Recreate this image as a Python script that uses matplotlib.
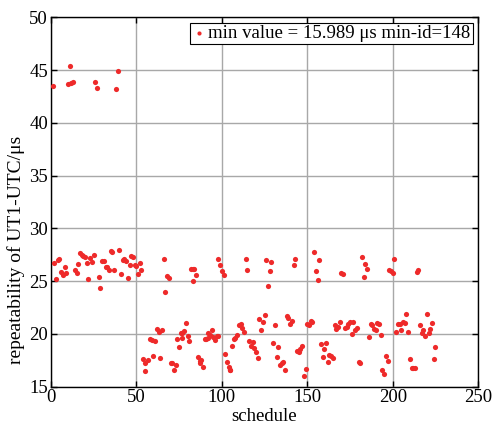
import matplotlib
matplotlib.use('Agg')
import matplotlib.pyplot as plt

plt.rcParams['font.family'] = ['Liberation Serif', 'DejaVu Serif']

# schedule ids and repeatability values
schedule = [
    1, 11, 10, 12, 13, 26, 27, 38, 39,
    2, 3, 4, 5, 6, 7, 8, 9, 14, 15, 16, 17, 18, 19, 20, 21, 22, 23, 24, 25,
    28, 29, 30, 31, 32, 33, 34, 35, 36, 37, 40, 41, 42, 43, 44, 45, 46, 47, 48,
    49, 50, 51, 52, 53,
    54, 55, 57, 55, 58, 59, 60, 61, 62, 63, 64, 65,
    66, 68, 69, 67, 82, 83, 84, 83, 85,
    70, 71, 73, 72, 74, 75, 76, 77, 78, 77, 79, 80, 81,
    86, 87, 88, 87, 89, 90, 91, 92, 92, 93, 94, 95, 96, 97, 98,
    98, 99, 100, 101, 102, 103, 104, 105, 105, 106, 107, 108, 109, 110, 111, 112, 113,
    114, 115, 116, 118, 117, 119, 120, 121, 122, 124, 125, 123,
    126, 129, 128, 127, 131, 130, 133, 132, 134, 135, 136, 137,
    138, 139, 140, 141, 142, 143, 144, 145, 146, 147, 149, 148,
    150, 151, 152, 153, 154, 157, 155, 156,
    158, 159, 160, 161, 162, 163, 164, 165, 166, 167, 168, 169, 170, 171,
    172, 173, 174, 175, 176, 177, 178, 179, 180, 181,
    182, 184, 185, 183, 186, 187, 188, 189, 190, 191, 192, 193, 194,
    195, 196, 197, 198, 199, 200, 201,
    202, 203, 204, 205, 206, 207, 208, 209, 210, 211, 212, 213, 214, 215,
    216, 217, 218, 219, 220, 221, 222, 223, 224, 225,
]
repeatability = [
    43.5, 45.4, 43.7, 43.8, 43.9, 43.9, 43.3, 43.2, 44.9,
    26.7, 25.2, 27.0, 27.1, 25.9, 25.6, 26.3, 25.8, 26.1, 25.8, 26.6, 27.7, 27.5, 27.4, 27.3, 26.7, 25.2, 27.2, 26.8, 27.5,
    25.4, 24.4, 26.9, 26.9, 26.3, 26.3, 26.1, 27.9, 27.8, 26.1, 28.0, 25.7, 27.0, 27.1, 26.9, 25.3, 26.5, 27.4, 27.3,
    26.5, 26.4, 25.7, 26.7, 26.1,
    17.6, 17.2, 17.5, 16.5, 19.5, 19.4, 17.9, 19.3, 20.5, 20.2, 17.7, 20.4,
    27.1, 25.5, 25.3, 24.0, 26.2, 26.2, 26.2, 25.0, 25.6,
    17.2, 17.2, 17.1, 16.6, 19.5, 18.8, 20.1, 20.1, 20.3, 19.6, 21.0, 19.8, 19.3,
    17.8, 17.4, 17.5, 17.2, 16.9, 19.5, 19.5, 19.6, 20.1, 19.9, 20.4, 19.7, 19.4, 19.8, 19.8,
    27.1, 26.5, 26.0, 25.6, 18.1, 17.3, 16.9, 16.6, 16.6, 18.9, 19.5, 19.6, 19.9, 20.8, 20.9, 20.6, 20.2,
    27.1, 26.1, 19.3, 19.2, 18.9, 18.7, 18.3, 17.7, 21.4, 21.1, 21.8, 20.4,
    27.0, 26.8, 26.0, 24.5, 20.8, 19.1, 18.8, 17.8, 17.1, 17.2, 17.3, 16.6,
    21.7, 21.5, 20.9, 21.2, 26.5, 27.1, 18.4, 18.3, 18.6, 18.9, 16.7, 15.989,
    20.9, 20.8, 21.2, 21.1, 27.8, 27.0, 26.0, 25.1,
    19.0, 17.8, 18.6, 19.1, 17.3, 18.0, 17.9, 17.7, 20.8, 20.5, 20.7, 21.1, 25.8, 25.7,
    20.6, 20.7, 20.9, 21.1, 20.0, 21.1, 20.4, 20.6, 17.3, 17.2,
    27.3, 26.6, 26.2, 25.4, 19.7, 20.9, 20.8, 20.5, 20.4, 21.0, 20.9, 19.9, 16.6,
    16.2, 17.9, 17.4, 26.1, 26.0, 25.8, 27.1,
    20.2, 20.9, 20.9, 20.4, 21.1, 21.0, 21.9, 20.2, 17.6, 16.8, 16.8, 16.8, 25.9, 26.1,
    20.8, 20.1, 20.4, 19.8, 21.9, 20.1, 20.5, 21.0, 17.6, 18.8,
]

min_val = min(repeatability)
min_id = schedule[repeatability.index(min_val)]

fig = plt.figure(figsize=(4.94, 4.24), dpi=100)
ax = fig.add_axes([0.103, 0.088, 0.865, 0.871])

ax.scatter(schedule, repeatability, s=14, color='#ee2a2a', marker='o', linewidths=0,
           label=f'min value = {min_val:.3f} μs min-id={min_id}', zorder=3)

ax.set_xlim(0, 250)
ax.set_ylim(15, 50)
ax.set_xticks([0, 50, 100, 150, 200, 250])
ax.set_yticks([15, 20, 25, 30, 35, 40, 45, 50])
ax.grid(True, color='#a8a8a8', linewidth=1.0)
ax.tick_params(direction='in', top=True, right=True, labelsize=13.5, length=4, width=1, pad=2)
for s in ax.spines.values():
    s.set_linewidth(1.0)

ax.set_xlabel('schedule', fontsize=13.5, labelpad=1)
ax.set_ylabel('repeatability of UT1-UTC/μs', fontsize=14)
ax.yaxis.set_label_coords(-0.06, 0.37)

leg = ax.legend(loc='upper right', fontsize=13.5, frameon=True, fancybox=False,
                edgecolor='black', framealpha=1, handletextpad=0.1, borderpad=0.1,
                handlelength=0.8, markerscale=0.8, borderaxespad=0.3)
leg.get_frame().set_linewidth(0.8)

fig.savefig('out.png', dpi=100)
